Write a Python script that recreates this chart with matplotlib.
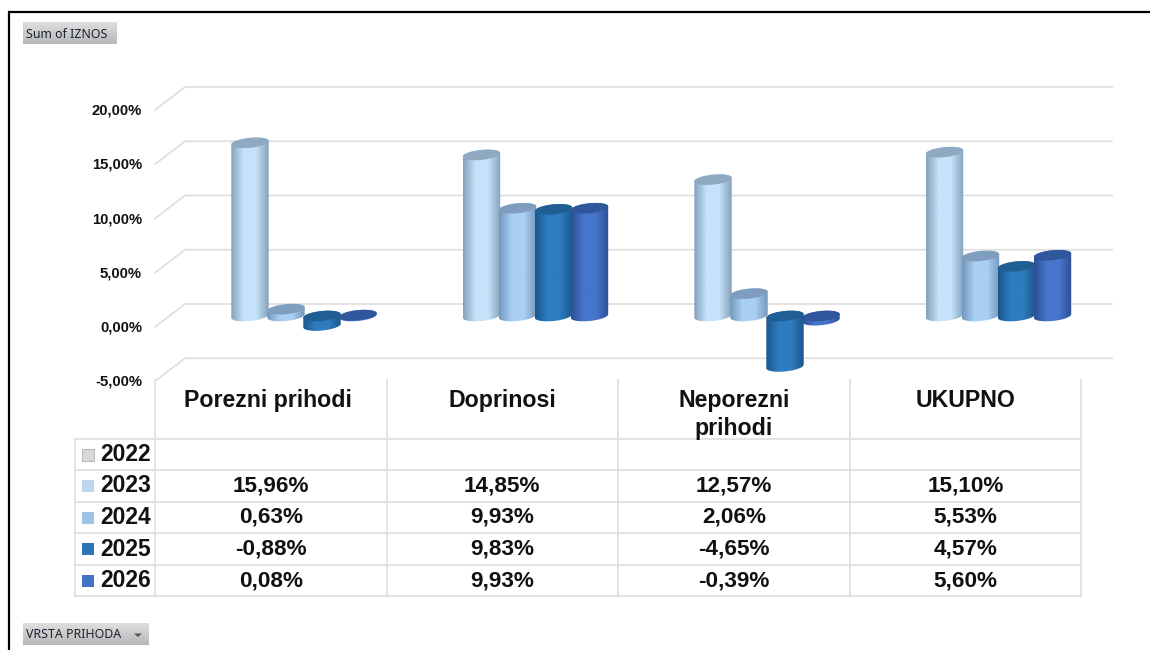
import numpy as np
import matplotlib
matplotlib.use('Agg')
import matplotlib.pyplot as plt
from matplotlib.colors import LinearSegmentedColormap
from matplotlib.patches import Polygon, Rectangle

# Data
categories = ['Porezni prihodi', 'Doprinosi', 'Neporezni\nprihodi', 'UKUPNO']
years = ['2022', '2023', '2024', '2025', '2026']
v2023 = [15.96, 14.85, 12.57, 15.10]
v2024 = [0.63, 9.93, 2.06, 5.53]
v2025 = [-0.88, 9.83, -4.65, 4.57]
v2026 = [0.08, 9.93, -0.39, 5.60]
y_ticks = [20, 15, 10, 5, 0, -5]

# Styles: edge, middle, cap
styles = [
    ('#86a2bb', '#c6e2fb', '#8ea9c1'),
    ('#7598bd', '#a9cff3', '#7f9ebf'),
    ('#1b588e', '#2f7bc0', '#215e94'),
    ('#2d4f95', '#4675cc', '#30569c'),
]
legend_colors = ['#d9d9d9', '#bdd7ee', '#9dc3e6', '#2e75b6', '#4472c4']
GRID = '#e0e0e0'
W, H = 1150, 650

plt.rcParams['font.family'] = ['Liberation Sans', 'DejaVu Sans']
fig = plt.figure(figsize=(W / 100, H / 100), dpi=100)


def pixel_rect(x0, y0, x1, y1):
    return [x0 / W, 1 - y1 / H, (x1 - x0) / W, (y1 - y0) / H]


# Chart area, one x unit is a table column, y is in percent
PX_PER_UNIT = 231.5
PX_PER_PCT = 10.85
Y0 = 316
ax = fig.add_axes(pixel_rect(155, 70, 1112, 385))
ax.axis('off')
xlim = ((155 - 304) / PX_PER_UNIT, (1112 - 304) / PX_PER_UNIT)
ylim = ((Y0 - 385) / PX_PER_PCT, (Y0 - 70) / PX_PER_PCT)

# Gridlines with the 3D floor offset
back_shift = 12 / PX_PER_PCT
front_shift = -11 / PX_PER_PCT
x_back = (185 - 304) / PX_PER_UNIT
for tick in y_ticks:
    ax.plot([xlim[0], x_back, xlim[1]],
            [tick + front_shift, tick + back_shift, tick + back_shift],
            color=GRID, lw=1.3, zorder=1, clip_on=False)

bar_step = 36 / PX_PER_UNIT
half_w = 18.7 / PX_PER_UNIT
half_h = 5 / PX_PER_PCT
tilt = 1.8 / PX_PER_PCT


def ellipse(cx, cy, t):
    return np.column_stack([cx + half_w * np.cos(t),
                            cy + half_h * np.sin(t) + tilt * np.cos(t)])


series = [v2023, v2024, v2025, v2026]
for k, values in enumerate(series):
    edge, mid, cap = styles[k]
    cmap = LinearSegmentedColormap.from_list('c', [edge, mid, mid, edge])
    for i, v in enumerate(values):
        cx = i + (k - 1.5) * bar_step
        top, bottom = max(v, 0), min(v, 0)
        t_up = np.linspace(0, np.pi, 40)
        t_down = np.linspace(np.pi, 2 * np.pi, 40)
        outline = np.vstack([ellipse(cx, top, t_up), ellipse(cx, bottom, t_down)])
        body = Polygon(outline, closed=True, transform=ax.transData)
        img = ax.imshow(np.linspace(0, 1, 64).reshape(1, -1), cmap=cmap, aspect='auto',
                        extent=(cx - half_w, cx + half_w, bottom - 1, top + 1),
                        zorder=2 + k, interpolation='bilinear')
        img.set_clip_path(body)
        t = np.linspace(0, 2 * np.pi, 80)
        ax.add_patch(Polygon(ellipse(cx, top, t), closed=True, fc=cap, ec='none', zorder=2 + k))

ax.set_xlim(xlim)
ax.set_ylim(ylim)

# Frame, buttons and table in pixel coordinates
ov = fig.add_axes([0, 0, 1, 1])
ov.set_xlim(0, W)
ov.set_ylim(H, 0)
ov.axis('off')
ov.patch.set_alpha(0)

ov.plot([8.5, 8.5, W], [H, 11.5, 11.5], color='black', lw=1.6, solid_joinstyle='miter')


def button(x0, y0, x1, y1, label):
    shade = np.linspace(0.87, 0.72, 32).reshape(-1, 1)
    ov.imshow(shade, cmap='gray', vmin=0, vmax=1, aspect='auto',
              extent=(x0, x1, y1, y0), zorder=2)
    ov.text(x0 + 3.5, (y0 + y1) / 2 + 1, label, fontsize=8.9, family='Noto Sans',
            color='#1a2230', va='center', ha='left', zorder=3)


button(23, 22, 117, 44, 'Sum of IZNOS')
button(23, 623, 149, 645, 'VRSTA PRIHODA')
ov.add_patch(Polygon([[134, 633.5], [142, 633.5], [138, 637]], fc='#555555', ec='none', zorder=3))

# y tick labels
for tick in y_ticks:
    label = f'{tick:.2f}'.replace('.', ',') + '%'
    ov.text(142, 110 + (20 - tick) * PX_PER_PCT + 0.5, label, ha='right', va='center',
            fontsize=10.7, fontweight='bold', color='#111111')

# Table grid
col_x = [155, 386.5, 618, 850, 1081]
row_y = [439, 470, 502, 533, 565, 596]
for x in col_x:
    ov.plot([x, x], [380, 596], color=GRID, lw=1.3)
ov.plot([75, 75], [439, 596], color=GRID, lw=1.3)
for y in row_y:
    ov.plot([75, 1081], [y, y], color=GRID, lw=1.3)

# Table headers
header_dx = [-2.5, 0, 0, 0]
for c, name in enumerate(categories):
    ov.text((col_x[c] + col_x[c + 1]) / 2 + header_dx[c], 389, name, ha='center', va='top',
            fontsize=16.7, fontweight='bold', color='#111111', linespacing=1.25)

# Table rows
rows = [[], v2023, v2024, v2025, v2026]
for r, year in enumerate(years):
    yc = (row_y[r] + row_y[r + 1]) / 2
    ec = '#bbbbbb' if r == 0 else 'none'
    ov.add_patch(Rectangle((82, yc - 6), 12, 12, fc=legend_colors[r], ec=ec, lw=0.8))
    ov.text(100, yc, year, ha='left', va='center', fontsize=16.5, fontweight='bold', color='#111111')
    for c, v in enumerate(rows[r]):
        label = f'{v:.2f}'.replace('.', ',') + '%'
        ov.text((col_x[c] + col_x[c + 1]) / 2, yc, label, ha='center', va='center',
                fontsize=16.2, fontweight='bold', color='#111111')

ov.set_xlim(0, W)
ov.set_ylim(H, 0)

fig.savefig('out.png', dpi=100)
